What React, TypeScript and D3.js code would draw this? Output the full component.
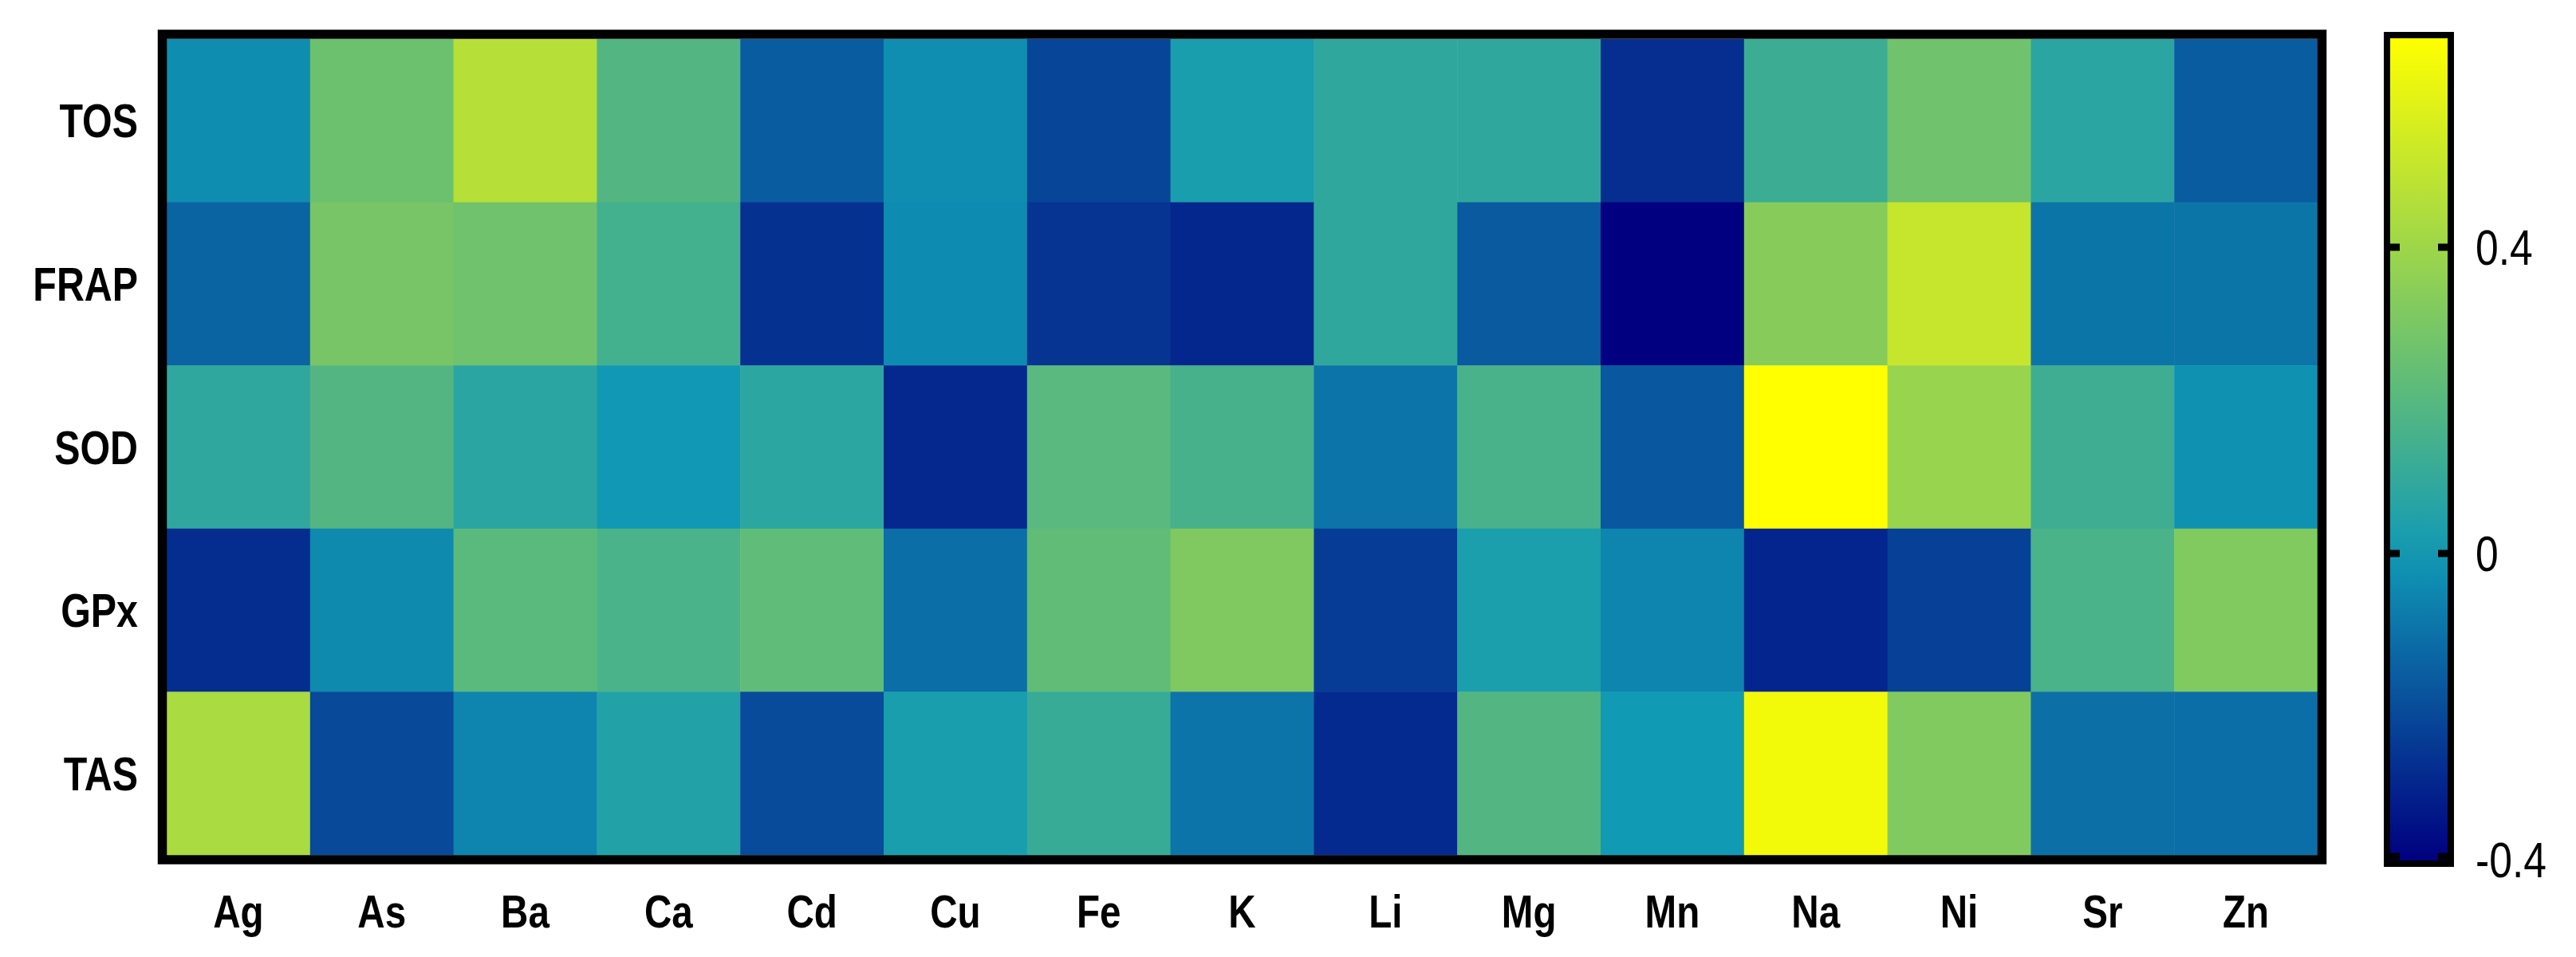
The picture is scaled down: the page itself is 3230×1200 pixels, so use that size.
import React from 'react';
import * as d3 from 'd3';

const elements = ['Ag', 'As', 'Ba', 'Ca', 'Cd', 'Cu', 'Fe', 'K', 'Li', 'Mg', 'Mn', 'Na', 'Ni', 'Sr', 'Zn'];
const markers = ['TOS', 'FRAP', 'SOD', 'GPx', 'TAS'];

// correlation values (one array per marker row)
const tos = [-0.035, 0.26, 0.47, 0.19, -0.16, -0.03, -0.22, 0.025, 0.088, 0.09, -0.28, 0.125, 0.27, 0.076, -0.16];
const frap = [-0.14, 0.29, 0.27, 0.145, -0.27, -0.04, -0.265, -0.3, 0.09, -0.165, -0.4, 0.335, 0.51, -0.095, -0.095];
const sod = [0.087, 0.19, 0.076, -0.005, 0.078, -0.295, 0.205, 0.155, -0.1, 0.16, -0.175, 0.675, 0.385, 0.13, -0.02];
const gpx = [-0.285, -0.042, 0.21, 0.165, 0.225, -0.115, 0.228, 0.316, -0.245, 0.033, -0.055, -0.305, -0.23, 0.165, 0.318];
const tas = [0.435, -0.21, -0.055, 0.052, -0.205, 0.025, 0.113, -0.1, -0.29, 0.19, 0.002, 0.64, 0.318, -0.11, -0.113];

const rowValues = [tos, frap, sod, gpx, tas];
const colorTicks = [-0.4, 0, 0.4];
const colorDomain = [-0.4, 0.675];

const W = 3230;
const H = 1200;
// the original uses a condensed face; squeeze Liberation Sans horizontally
const font = '"Liberation Sans", Arial, sans-serif';
const squeeze = 0.82;

export default function App() {
  const x = d3.scaleBand<string>().domain(elements).range([209, 2906]);
  const y = d3.scaleBand<string>().domain(markers).range([49, 1072]);

  const color = d3.scaleLinear<string>()
    .domain([colorDomain[0], 0, colorDomain[1]])
    .range(['#000080', '#109ab5', '#ffff00'])
    .interpolate(d3.interpolateRgb);

  const cy = d3.scaleLinear().domain(colorDomain).range([1078, 46]);

  const cells = markers.flatMap((m, i) =>
    elements.map((e, j) => ({ m, e, v: rowValues[i][j] })));

  const stops = d3.range(0, 1.0001, 0.05).map((t) => {
    const v = colorDomain[0] + t * (colorDomain[1] - colorDomain[0]);
    return { offset: t, c: color(v) };
  });

  const tickLabel = (t: number) => (t === 0 ? '0' : String(t));

  return (
    <svg width={W} height={H} style={{ position: 'absolute', left: 0, top: 0, background: '#fff' }}>
      <defs>
        <linearGradient id="cbar" gradientUnits="userSpaceOnUse" x1="0" x2="0" y1={cy(colorDomain[0])} y2={cy(colorDomain[1])}>
          {stops.map((s) => (
            <stop key={s.offset} offset={s.offset} stopColor={s.c} />
          ))}
        </linearGradient>
      </defs>

      {/* heatmap cells */}
      <g>
        {cells.map((d) => (
          <rect
            key={`${d.m}-${d.e}`}
            x={x(d.e)}
            y={y(d.m)}
            width={x.bandwidth() + 0.5}
            height={y.bandwidth() + 0.5}
            fill={color(d.v)}
          />
        ))}
      </g>
      <rect x={203.5} y={43} width={2708} height={1035} fill="none" stroke="#000" strokeWidth={11.5} />

      {/* row labels */}
      <g fontFamily={font} fontWeight="bold" fontSize={59} textAnchor="end">
        {markers.map((m) => (
          <text
            key={m}
            transform={`translate(173,${(y(m) as number) + y.bandwidth() / 2 + 21}) scale(${squeeze},1)`}
          >
            {m}
          </text>
        ))}
      </g>

      {/* column labels */}
      <g fontFamily={font} fontWeight="bold" fontSize={58} textAnchor="middle">
        {elements.map((e) => (
          <text key={e} transform={`translate(${(x(e) as number) + x.bandwidth() / 2},1163) scale(${squeeze},1)`}>
            {e}
          </text>
        ))}
      </g>

      {/* colour bar */}
      <rect x={2993} y={44} width={80} height={1039} fill="url(#cbar)" stroke="#000" strokeWidth={8} />
      <g stroke="#000" strokeWidth={9}>
        {colorTicks.map((t) => (
          <g key={t}>
            <line x1={2997} x2={3009} y1={Math.min(cy(t), 1074)} y2={Math.min(cy(t), 1074)} />
            <line x1={3057} x2={3069} y1={Math.min(cy(t), 1074)} y2={Math.min(cy(t), 1074)} />
          </g>
        ))}
      </g>
      <g fontFamily={font} fontSize={63}>
        {colorTicks.map((t) => (
          <text key={t} transform={`translate(3104,${cy(t) + 22}) scale(${squeeze},1)`}>
            {tickLabel(t)}
          </text>
        ))}
      </g>
    </svg>
  );
}
